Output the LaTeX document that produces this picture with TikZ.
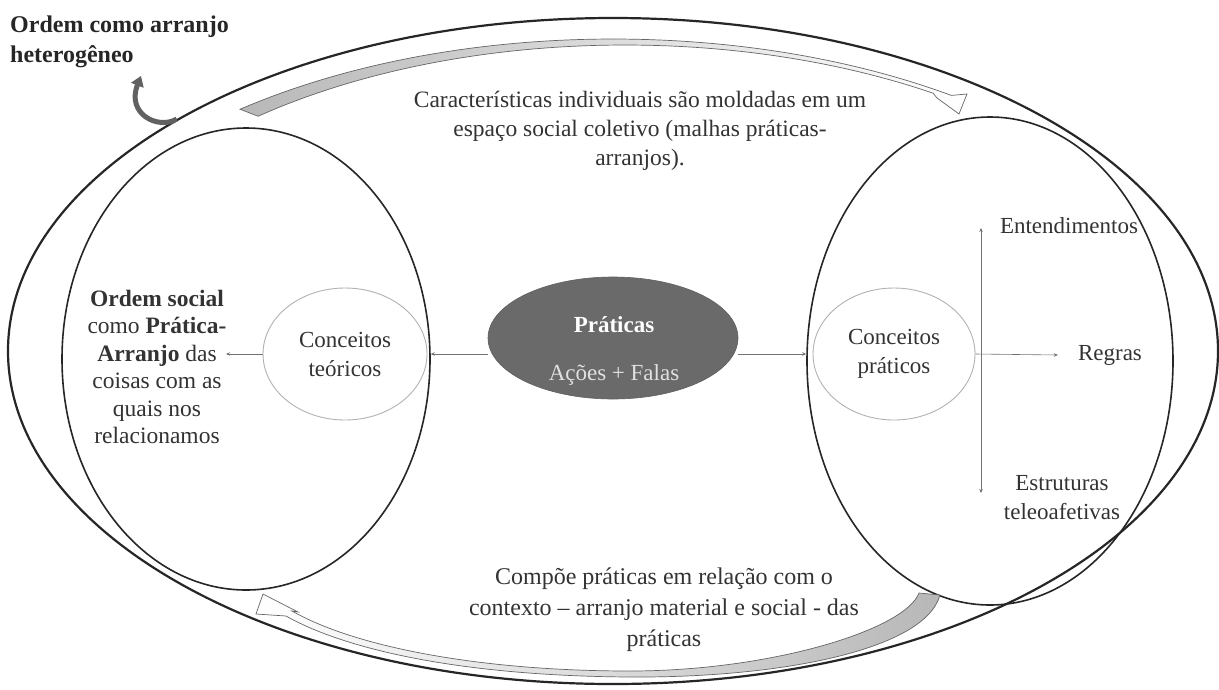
\documentclass[tikz,border=0pt]{standalone}
\usepackage{fontspec}
\setmainfont{Liberation Serif}
\usetikzlibrary{shapes.geometric,arrows.meta}
\definecolor{txtc}{HTML}{333333}
\definecolor{darkfill}{HTML}{6A6A6A}
\begin{document}
\begin{tikzpicture}[x=1pt,y=-1pt,
  txt/.style={font=\fontsize{23}{27.5}\selectfont, text=txtc, inner sep=0pt},
  bigell/.style={ellipse, draw=black!85, line width=1.6pt, inner sep=0pt},
  conc/.style={ellipse, draw=black!30, line width=0.9pt, inner sep=0pt, txt, align=center, font=\fontsize{23}{29}\selectfont},
  conn/.style={draw=black!55, line width=0.6pt, -{Stealth[length=4pt,width=3.5pt]}},
  band/.style={draw=black!60, line width=0.7pt},
  darkarrow/.style={draw=black!62, line width=5pt, -{Triangle[length=10pt,width=13pt]}}
]
\useasboundingbox (0,0) rectangle (1219,689);
\fill[white] (0,0) rectangle (1219,689);

% big ellipses
\node[bigell, line width=2.2pt, minimum width=1210pt, minimum height=666pt] (outer) at (613,351) {};
\node[bigell, minimum width=368pt, minimum height=462pt] (leftE) at (246,359) {};
\node[bigell, minimum width=366pt, minimum height=488pt] (rightE) at (990,361) {};

% concept ellipses
\node[conc, minimum width=164pt, minimum height=132pt] (teo) at (345,354) {Conceitos\\teóricos};
\node[conc, minimum width=162pt, minimum height=132pt] (pra) at (894,354) {Conceitos\\práticos};

% central dark ellipse
\node[ellipse, fill=darkfill, draw=darkfill!90!black, line width=0.6pt, minimum width=250pt, minimum height=122pt, inner sep=0pt] (prat) at (613,338) {};
\node[txt, align=center, font=\fontsize{23}{48}\selectfont, text=white] (pratxt) at (614,351) {\textbf{Práticas}\\\textcolor{white!88!black}{Ações + Falas}};

% texts
\node[txt, anchor=west, align=left, font=\bfseries\fontsize{24}{30}\selectfont, text=black!85] (title) at (10,42) {Ordem como arranjo\\heterogêneo};
\node[txt, align=center, font=\fontsize{23.5}{27.5}\selectfont] (ord) at (157,367) {\textbf{Ordem social}\\como \textbf{Prática-}\\\textbf{Arranjo} das\\coisas com as\\quais nos\\relacionamos};
\node[txt, align=center, font=\fontsize{23.5}{29}\selectfont] (car) at (640,131) {Características individuais são moldadas em um\\espaço social coletivo (malhas práticas-\\arranjos).};
\node[txt, align=center, font=\fontsize{24}{31}\selectfont] (comp) at (664,610) {Compõe práticas em relação com o\\contexto – arranjo material e social - das\\práticas};
\node[txt] (ent) at (1069,226) {Entendimentos};
\node[txt] (reg) at (1110,355) {Regras};
\node[txt, align=center, font=\fontsize{23}{29}\selectfont] (est) at (1062,498) {Estruturas\\teleoafetivas};

% connectors
\coordinate (ordtip) at (226,354);
\coordinate (vtop) at (981,228);
\coordinate (vbot) at (981,493);
\draw[conn] (prat.west |- teo.east) -- (leftE.east |- teo.east);
\draw[conn] (teo.west) -- (ordtip);
\draw[conn] (prat.east |- pra.west) -- (rightE.west |- pra.west);
\draw[conn] (pra.east) -- ([xshift=-20pt]reg.west);
\draw[conn, {Stealth[length=4pt,width=3.5pt]}-{Stealth[length=4pt,width=3.5pt]}] (vtop) -- (vbot);

% top curved band arrow
\shadedraw[band, left color=black!28, right color=white]
  plot[domain=-129.2:-55, samples=60] ({613+590*cos(\x)},{351+312*sin(\x)})
  -- (967,94) -- (959,114) -- (937,98)
  -- plot[domain=-57.4:-129.9, samples=60] ({625+572*cos(\x)},{351+306*sin(\x)}) -- cycle;

% bottom curved band arrow
\shadedraw[band, right color=black!28, left color=white]
  (940,595) .. controls (925,650) and (780,678) .. (630,677)
  .. controls (470,676) and (350,652) .. (286,616)
  -- (256,614) -- (263,594) -- (298,612) -- (292,611)
  .. controls (355,647) and (480,671) .. (630,671)
  .. controls (770,671) and (905,630) .. (919,593) -- cycle;

% dark curved arrow
\draw[darkarrow] (outer.152) .. controls (158,130) and (126,114) .. (141,76);
\end{tikzpicture}
\end{document}
